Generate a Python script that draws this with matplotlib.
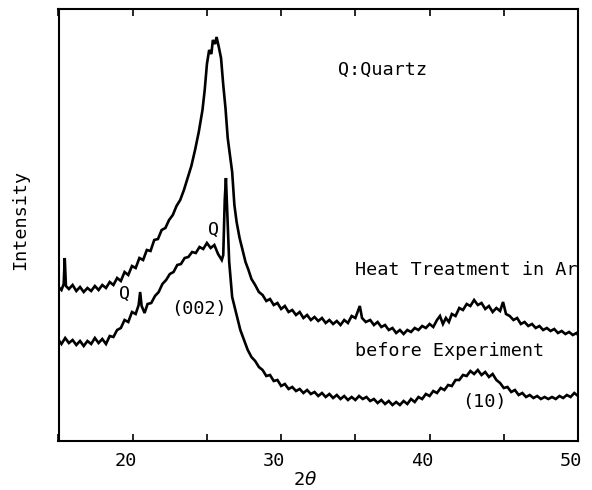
import matplotlib
matplotlib.use("Agg")
import matplotlib.pyplot as plt
from matplotlib.transforms import ScaledTranslation

# ---- data (2theta in degrees, intensity in arbitrary units) ----
theta_heat = [15.00, 15.20, 15.35, 15.42, 15.50, 15.70, 15.95, 16.20, 16.45, 16.70, 16.95,
              17.20, 17.45, 17.70, 17.95, 18.20, 18.45, 18.70, 18.95, 19.20, 19.45, 19.70,
              19.95, 20.20, 20.45, 20.70, 20.95, 21.20, 21.45, 21.70, 21.95, 22.20, 22.45,
              22.70, 22.95, 23.20, 23.45, 23.70, 23.95, 24.20, 24.45, 24.70, 24.85, 25.00,
              25.15, 25.30, 25.40, 25.55, 25.65, 25.80, 25.95, 26.10, 26.25, 26.40, 26.55,
              26.70, 26.85, 27.00, 27.20, 27.40, 27.60, 27.80, 28.00, 28.25, 28.50, 28.75,
              29.00, 29.25, 29.50, 29.75, 30.00, 30.25, 30.50, 30.75, 31.00, 31.25, 31.50,
              31.75, 32.00, 32.25, 32.50, 32.75, 33.00, 33.25, 33.50, 33.75, 34.00, 34.25,
              34.50, 34.75, 35.00, 35.30, 35.45, 35.70, 36.00, 36.25, 36.50, 36.75, 37.00,
              37.25, 37.50, 37.75, 38.00, 38.25, 38.50, 38.75, 39.00, 39.25, 39.50, 39.75,
              40.00, 40.25, 40.50, 40.70, 40.90, 41.10, 41.30, 41.50, 41.75, 42.00, 42.25,
              42.50, 42.75, 43.00, 43.25, 43.50, 43.75, 44.00, 44.25, 44.50, 44.75, 44.95,
              45.15, 45.40, 45.65, 45.90, 46.15, 46.40, 46.65, 46.90, 47.15, 47.40, 47.65,
              47.90, 48.15, 48.40, 48.65, 48.90, 49.15, 49.40, 49.65, 49.90, 50.00]
intensity_heat = [154, 151, 157, 183, 155, 152, 156, 150, 154, 149, 153,
                  150, 155, 151, 156, 153, 159, 156, 163, 160, 169, 166,
                  175, 173, 183, 181, 191, 190, 201, 202, 211, 213, 221,
                  226, 235, 241, 251, 263, 275, 291, 309, 331, 351, 377,
                  391, 387, 401, 397, 404, 394, 383, 356, 333, 303, 286,
                  269, 236, 219, 203, 191, 179, 171, 162, 156, 149, 146,
                  140, 142, 136, 138, 132, 135, 129, 131, 126, 129, 123,
                  126, 121, 124, 120, 123, 118, 121, 117, 120, 116, 121,
                  118, 125, 123, 135, 123, 119, 121, 116, 119, 114, 116,
                  111, 113, 108, 111, 107, 111, 109, 113, 111, 115, 113,
                  117, 114, 121, 125, 117, 123, 119, 127, 125, 133, 131,
                  137, 135, 141, 136, 138, 132, 135, 129, 133, 130, 139,
                  127, 125, 121, 123, 117, 119, 115, 117, 113, 115, 111,
                  113, 110, 112, 108, 110, 107, 109, 106, 108, 106]

theta_before = [15.00, 15.20, 15.45, 15.70, 15.95, 16.20, 16.45, 16.70, 16.95, 17.20, 17.45,
                17.70, 17.95, 18.20, 18.45, 18.70, 18.95, 19.20, 19.45, 19.70, 19.95, 20.20,
                20.40, 20.50, 20.60, 20.80, 21.00, 21.25, 21.50, 21.75, 22.00, 22.25, 22.50,
                22.75, 23.00, 23.25, 23.50, 23.75, 24.00, 24.25, 24.50, 24.75, 25.00, 25.25,
                25.50, 25.75, 26.00, 26.10, 26.20, 26.28, 26.38, 26.50, 26.70, 27.00, 27.25,
                27.50, 27.75, 28.00, 28.25, 28.50, 28.75, 29.00, 29.25, 29.50, 29.75, 30.00,
                30.25, 30.50, 30.75, 31.00, 31.25, 31.50, 31.75, 32.00, 32.25, 32.50, 32.75,
                33.00, 33.25, 33.50, 33.75, 34.00, 34.25, 34.50, 34.75, 35.00, 35.25, 35.50,
                35.75, 36.00, 36.25, 36.50, 36.75, 37.00, 37.25, 37.50, 37.75, 38.00, 38.25,
                38.50, 38.75, 39.00, 39.25, 39.50, 39.75, 40.00, 40.25, 40.50, 40.75, 41.00,
                41.25, 41.50, 41.75, 42.00, 42.25, 42.50, 42.75, 43.00, 43.25, 43.50, 43.75,
                44.00, 44.25, 44.50, 44.75, 45.00, 45.25, 45.50, 45.75, 46.00, 46.25, 46.50,
                46.75, 47.00, 47.25, 47.50, 47.75, 48.00, 48.25, 48.50, 48.75, 49.00, 49.25,
                49.50, 49.75, 50.00]
intensity_before = [101, 97, 103, 98, 101, 96, 100, 95, 100, 97, 103,
                    98, 102, 97, 105, 104, 111, 113, 121, 119, 129, 127,
                    136, 149, 135, 128, 137, 138, 145, 149, 157, 161, 167,
                    169, 176, 177, 183, 184, 189, 188, 194, 192, 198, 193,
                    196, 187, 181, 186, 241, 263, 226, 179, 144, 126, 111,
                    101, 91, 84, 80, 74, 71, 65, 66, 60, 61, 55,
                    57, 52, 54, 50, 52, 48, 51, 47, 49, 45, 48,
                    44, 47, 43, 46, 42, 45, 41, 44, 41, 45, 42,
                    44, 40, 42, 38, 41, 37, 40, 36, 39, 36, 40,
                    37, 42, 39, 44, 42, 47, 45, 50, 48, 53, 51,
                    56, 55, 61, 61, 66, 65, 70, 67, 71, 66, 69,
                    64, 67, 61, 58, 53, 54, 49, 51, 46, 48, 44,
                    46, 43, 45, 42, 44, 42, 44, 42, 45, 43, 46,
                    44, 48, 45]

x_ticks = [15, 20, 25, 30, 35, 40, 45, 50]
x_tick_labels = ["", "20", "", "30", "", "40", "", "50"]

# ---- figure ----
FONT = "DejaVu Sans Mono"
plt.rcParams["font.family"] = [FONT, "DejaVu Sans"]
plt.rcParams["mathtext.fontset"] = "dejavusans"

fig = plt.figure(figsize=(5.92, 4.90), dpi=100)
ax = fig.add_axes([58.5 / 592, 49 / 490, 519.5 / 592, 432 / 490])

ax.plot(theta_heat, intensity_heat, color="black", lw=1.9, solid_joinstyle="miter")
ax.plot(theta_before, intensity_before, color="black", lw=1.9, solid_joinstyle="miter")

ax.set_xlim(15, 50)
ax.set_ylim(0, 432)
ax.set_yticks([])
ax.set_xticks(x_ticks)
ax.set_xticklabels(x_tick_labels)
ax.tick_params(axis="x", direction="in", length=5, width=1.2, top=True,
               labelsize=13.3, pad=8)
for s in ax.spines.values():
    s.set_linewidth(1.5)
offset = ScaledTranslation(-7 / 100, 0, fig.dpi_scale_trans)
for lab in ax.get_xticklabels():
    lab.set_transform(lab.get_transform() + offset)

ax.set_xlabel(r"2$\theta$", fontsize=13.3)
ax.xaxis.set_label_coords(0.4745, -0.090)
ax.xaxis.label.set_verticalalignment("center")
ax.set_ylabel("Intensity", fontsize=13.3)
ax.yaxis.set_label_coords(-0.0741, 0.5116)
ax.yaxis.label.set_verticalalignment("center")
ax.yaxis.label.set_horizontalalignment("center")

fs = 13.3
ax.text(33.82, 371, "Q:Quartz", fontsize=fs, ha="left", va="center")
ax.text(35.0, 171, "Heat Treatment in Ar", fontsize=fs, ha="left", va="center")
ax.text(35.0, 90, "before Experiment", fontsize=fs, ha="left", va="center")
ax.text(43.72, 39, "(10)", fontsize=fs, ha="center", va="center")
ax.text(24.47, 132, "(002)", fontsize=fs, ha="center", va="center")
ax.text(25.47, 211, "Q", fontsize=fs, ha="center", va="center")
ax.text(19.48, 147, "Q", fontsize=fs, ha="center", va="center")

fig.savefig("out.png", dpi=100)
